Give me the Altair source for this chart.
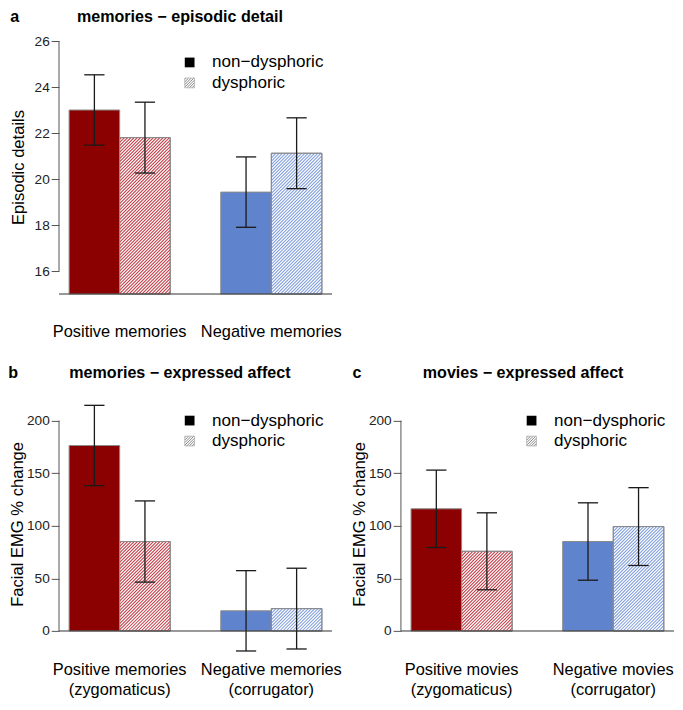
import altair as alt
import pandas as pd

# ---------------- data ----------------
labels_a_top = ["Positive memories", "Negative memories"]
labels_a_bot = ["", ""]
nondys_a = [23.0, 19.43]
dys_a = [21.8, 21.12]
err_nondys_a = [1.53, 1.53]
err_dys_a = [1.54, 1.54]

labels_b_top = ["Positive memories", "Negative memories"]
labels_b_bot = ["(zygomaticus)", "(corrugator)"]
nondys_b = [176.4, 19.2]
dys_b = [85.1, 21.3]
err_nondys_b = [38.2, 38.2]
err_dys_b = [38.6, 38.4]

labels_c_top = ["Positive movies", "Negative movies"]
labels_c_bot = ["(zygomaticus)", "(corrugator)"]
nondys_c = [116.2, 85.1]
dys_c = [75.8, 99.3]
err_nondys_c = [36.8, 36.8]
err_dys_c = [36.6, 37.0]

ticks_a = [16, 18, 20, 22, 24, 26]
ticks_bc = [0, 50, 100, 150, 200]
legend_labels = ["non\u2212dysphoric", "dysphoric"]

# ---------------- styling / layout ----------------
S = 0.975
W = 280 * S
H = 259.5 * S
XDOM = [0.8, 6.2]
SX = W / (XDOM[1] - XDOM[0])
FONT = "Liberation Sans"
SOLID = ["#8b0000", "#5f83cc"]
HATCH = ["#c23a44", "#7e9cdc"]
STROKE = "#8a8a8a"
PERIOD = 3.3 * S
CAP = 0.2


def hatch_segments(w, h, p):
    segs = []
    c = -h + p / 2
    while c < w:
        w0 = max(0.0, -c)
        w1 = min(h, w - c)
        if w1 > w0:
            segs.append((w0 + c, w0, w1 + c, w1))
        c += p
    return segs


def panel(letter, letter_dx, title, title_dx, ytitle, ytitle_dx, lab_top, lab_bot, lab_dy,
          nondys, dys, err_n, err_d, ydom, yticks, base, leg_y):
    SY = H / (ydom[1] - ydom[0])
    xs = alt.Scale(domain=XDOM, nice=False, zero=False)
    ys = alt.Scale(domain=ydom, nice=False, zero=False)

    bars, hatch, errs, caps = [], [], [], []
    for g in range(2):
        for s, (vals, errv) in enumerate([(nondys, err_n), (dys, err_d)]):
            x0 = 1 + 3 * g + s
            v = vals[g]
            e = errv[g]
            bars.append({"x0": x0, "x1": x0 + 1, "top": v, "base": base,
                         "fill": SOLID[g] if s == 0 else "white", "hatched": s})
            xc = x0 + 0.5
            errs.append({"xc": xc, "lo": v - e, "hi": v + e})
            caps.append({"xa": xc - CAP, "xb": xc + CAP, "yv": v - e})
            caps.append({"xa": xc - CAP, "xb": xc + CAP, "yv": v + e})
            if s == 1:
                for (u0, w0, u1, w1) in hatch_segments(SX, (v - base) * SY, PERIOD):
                    hatch.append({"hx": x0 + u0 / SX, "hy": base + w0 / SY,
                                  "hx2": x0 + u1 / SX, "hy2": base + w1 / SY,
                                  "col": HATCH[g]})
    bars = pd.DataFrame(bars)
    hatch = pd.DataFrame(hatch)
    errs = pd.DataFrame(errs)
    caps = pd.DataFrame(caps)

    yaxis = alt.Axis(values=yticks, title=None, domain=False, grid=False, ticks=True,
                     tickSize=8 * S, tickColor="#555555", tickWidth=1,
                     labelFontSize=14 * S, labelFont=FONT, labelColor="#222222",
                     labelPadding=2 * S, labelOverlap=False, labelFlush=False)

    def Y(field):
        return alt.Y(field, scale=ys, axis=yaxis)

    def X(field):
        return alt.X(field, scale=xs, axis=None)

    layers = []
    layers.append(alt.Chart(bars).mark_rect(stroke=STROKE, strokeWidth=1).encode(
        x=X("x0:Q"), x2="x1", y=Y("top:Q"), y2="base",
        fill=alt.Color("fill:N", scale=None)))
    layers.append(alt.Chart(hatch).mark_rule(strokeWidth=1.05).encode(
        x=X("hx:Q"), x2="hx2", y=Y("hy:Q"), y2="hy2",
        color=alt.Color("col:N", scale=None)))
    layers.append(alt.Chart(bars[bars.hatched == 1]).mark_rect(
        fillOpacity=0, stroke=STROKE, strokeWidth=1).encode(
        x=X("x0:Q"), x2="x1", y=Y("top:Q"), y2="base"))
    layers.append(alt.Chart(errs).mark_rule(color="#1a1a1a", strokeWidth=1.3).encode(
        x=X("xc:Q"), y=Y("lo:Q"), y2="hi"))
    layers.append(alt.Chart(caps).mark_rule(color="#1a1a1a", strokeWidth=1.3).encode(
        x=X("xa:Q"), x2="xb", y=Y("yv:Q")))
    # baseline and y axis line
    layers.append(alt.Chart(pd.DataFrame({"b": [base], "xa": [XDOM[0]], "xb": [XDOM[1]]}))
                  .mark_rule(color="#333333", strokeWidth=1).encode(
        x=X("xa:Q"), x2="xb", y=Y("b:Q")))
    layers.append(alt.Chart(pd.DataFrame({"y0": [yticks[0]], "y1": [yticks[-1]], "xv": [XDOM[0]]}))
                  .mark_rule(color="#555555", strokeWidth=1).encode(
        x=X("xv:Q"), y=Y("y0:Q"), y2="y1"))

    one = pd.DataFrame({"k": [0]})
    # panel letter and title
    layers.append(alt.Chart(one).mark_text(font=FONT, fontWeight="bold", fontSize=16.5 * S,
                                           align="left", baseline="middle", color="#000").encode(
        x=alt.value(letter_dx * S), y=alt.value(-25 * S), text=alt.value(letter)))
    layers.append(alt.Chart(one).mark_text(font=FONT, fontWeight="bold", fontSize=16.5 * S,
                                           align="center", baseline="middle", color="#000").encode(
        x=alt.value(title_dx * S), y=alt.value(-25 * S), text=alt.value(title)))
    # y title
    layers.append(alt.Chart(one).mark_text(font=FONT, fontSize=17 * S, angle=270,
                                           align="center", baseline="middle", color="#000").encode(
        x=alt.value(ytitle_dx * S), y=alt.value(H / 2), text=alt.value(ytitle)))
    # x labels
    labdf = pd.DataFrame({"xl": [2.0, 5.0], "t1": lab_top, "t2": lab_bot})
    layers.append(alt.Chart(labdf).mark_text(font=FONT, fontSize=16.8 * S, align="center",
                                             baseline="middle", color="#000").encode(
        x=X("xl:Q"), y=alt.value(H + lab_dy[0] * S), text="t1:N"))
    if any(lab_bot):
        layers.append(alt.Chart(labdf).mark_text(font=FONT, fontSize=16.8 * S, align="center",
                                                 baseline="middle", color="#000").encode(
            x=X("xl:Q"), y=alt.value(H + lab_dy[1] * S), text="t2:N"))
    # legend
    lx0, lx1 = 129 * S, 139 * S
    y1a, y2a = leg_y * S, (leg_y + 10) * S
    y1b, y2b = (leg_y + 21) * S, (leg_y + 31) * S
    layers.append(alt.Chart(one).mark_rect(color="#000000").encode(
        x=alt.value(lx0), x2=alt.value(lx1), y=alt.value(y1a), y2=alt.value(y2a)))
    leg_h = []
    for (u0, w0, u1, w1) in hatch_segments(lx1 - lx0, y2b - y1b, 2.6):
        leg_h.append({"px": lx0 + u0, "py": y2b - w0, "px2": lx0 + u1, "py2": y2b - w1})
    layers.append(alt.Chart(pd.DataFrame(leg_h)).mark_rule(color="#7a7a7a", strokeWidth=0.9).encode(
        x=alt.X("px:Q", scale=None, axis=None), x2="px2",
        y=alt.Y("py:Q", scale=None, axis=None), y2="py2"))
    layers.append(alt.Chart(one).mark_rect(fillOpacity=0, stroke="#b0b0b0", strokeWidth=0.8).encode(
        x=alt.value(lx0), x2=alt.value(lx1), y=alt.value(y1b), y2=alt.value(y2b)))
    legdf = pd.DataFrame({"t": legend_labels, "ly": [(y1a + y2a) / 2, (y1b + y2b) / 2]})
    layers.append(alt.Chart(legdf).mark_text(font=FONT, fontSize=17.5 * S, align="left",
                                             baseline="middle", color="#000").encode(
        x=alt.value(157 * S), y=alt.Y("ly:Q", scale=None, axis=None), text="t:N"))

    return alt.layer(*layers).properties(width=W, height=H)


pa = panel("a", -50, "memories \u2212 episodic detail", 124, "Episodic details", -41,
           labels_a_top, labels_a_bot, (38.5, 0),
           nondys_a, dys_a, err_nondys_a, err_dys_a, [15, 26], ticks_a, 15, 17)
pb = panel("b", -52, "memories \u2212 expressed affect", 124, "Facial EMG % change", -42,
           labels_b_top, labels_b_bot, (19.5, 40.5),
           nondys_b, dys_b, err_nondys_b, err_dys_b, [-18.9, 221.7], ticks_bc, 0, 18.3)
pc = panel("c", -49.7, "movies \u2212 expressed affect", 125.3, "Facial EMG % change", -41.7,
           labels_c_top, labels_c_bot, (19.5, 40.5),
           nondys_c, dys_c, err_nondys_c, err_dys_c, [-18.9, 221.7], ticks_bc, 0, 18.3)

chart = alt.vconcat(
    pa,
    alt.hconcat(pb, pc, spacing=70.7 * S, bounds="flush"),
    spacing=105.5 * S, bounds="flush", padding=0, background="white",
).configure_view(strokeWidth=0, stroke="transparent")

chart.save("out.html", embed_options={"renderer": "svg", "actions": False})
